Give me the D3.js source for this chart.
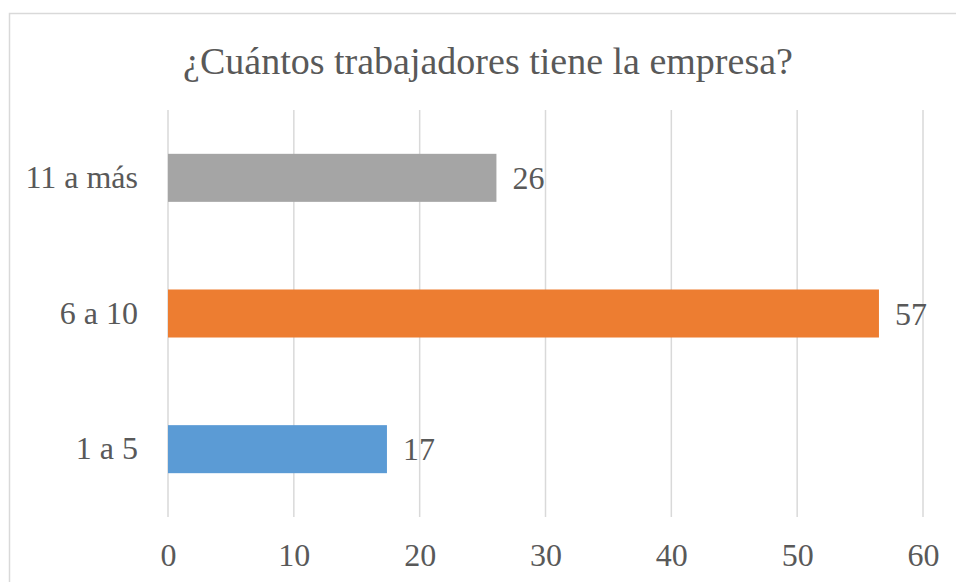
<!DOCTYPE html>
<html>
<head>
<meta charset="utf-8">
<script src="https://cdn.jsdelivr.net/npm/d3@7"></script>
<style>
  body { margin: 0; background: #fff; }
</style>
</head>
<body>
<div id="chart"></div>
<script>
// data
const categories = ["1 a 5", "6 a 10", "11 a más"];
const values = [17.4, 56.5, 26.1];
const colors = ["#5B9BD5", "#ED7D31", "#A5A5A5"];
const ticks = [0, 10, 20, 30, 40, 50, 60];
const title = "¿Cuántos trabajadores tiene la empresa?";

const serif = "Liberation Serif";

let width = 956, height = 582;
let margin = { top: 110, right: 33, bottom: 65, left: 168 };

let svg = d3.select("#chart")
    .append("svg")
    .attr("width", width)
    .attr("height", height);

// chart frame (cut off at right and bottom)
svg.append("rect")
    .attr("x", 9.5).attr("y", 13.5)
    .attr("width", 1000).attr("height", 700)
    .attr("fill", "#fff")
    .attr("stroke", "#D9D9D9")
    .attr("stroke-width", 1.5);

svg.append("text")
    .attr("x", 488).attr("y", 74)
    .attr("text-anchor", "middle")
    .attr("font-family", serif)
    .attr("font-size", 38)
    .attr("fill", "#595959")
    .text(title);

let g = svg.append("g")
    .attr("transform", `translate(${margin.left}, ${margin.top})`);

let w = width - margin.left - margin.right;
let h = height - margin.top - margin.bottom;

let x = d3.scaleLinear().domain([0, 60]).range([0, w]);
let y = d3.scaleBand()
    .domain(categories.slice().reverse())
    .range([0, h])
    .paddingInner(0.646)
    .paddingOuter(0.323);

// gridlines
g.append("g")
    .selectAll("line")
    .data(ticks)
    .enter()
    .append("line")
    .attr("x1", d => x(d)).attr("x2", d => x(d))
    .attr("y1", 0).attr("y2", h)
    .attr("stroke", "#D9D9D9")
    .attr("stroke-width", 1.5);

// bottom axis
let xAxis = g.append("g")
    .attr("transform", `translate(0, ${h})`)
    .call(d3.axisBottom(x).tickValues(ticks).tickSize(0).tickPadding(26));
xAxis.attr("font-family", serif).attr("font-size", 32);
xAxis.select(".domain").remove();
xAxis.selectAll("text").attr("fill", "#595959");

// left axis
let yAxis = g.append("g")
    .call(d3.axisLeft(y).tickSize(0).tickPadding(30));
yAxis.attr("font-family", serif).attr("font-size", 32);
yAxis.select(".domain").remove();
yAxis.selectAll("text").attr("fill", "#595959");

// bars
let data = categories.map((c, i) => ({ cat: c, val: values[i], color: colors[i] }));

let bars = g.selectAll(".bars")
    .data(data)
    .enter()
    .append("g")
    .attr("class", "bars");

bars.append("rect")
    .attr("x", x(0))
    .attr("y", d => y(d.cat))
    .attr("width", d => x(d.val) - x(0))
    .attr("height", y.bandwidth())
    .attr("fill", d => d.color);

// data labels
bars.append("text")
    .attr("x", d => x(d.val) + 16)
    .attr("y", d => y(d.cat) + y.bandwidth() / 2)
    .attr("dy", "0.35em")
    .attr("font-family", serif)
    .attr("font-size", 32)
    .attr("fill", "#595959")
    .text(d => d3.format(".0f")(d.val));
</script>
</body>
</html>
